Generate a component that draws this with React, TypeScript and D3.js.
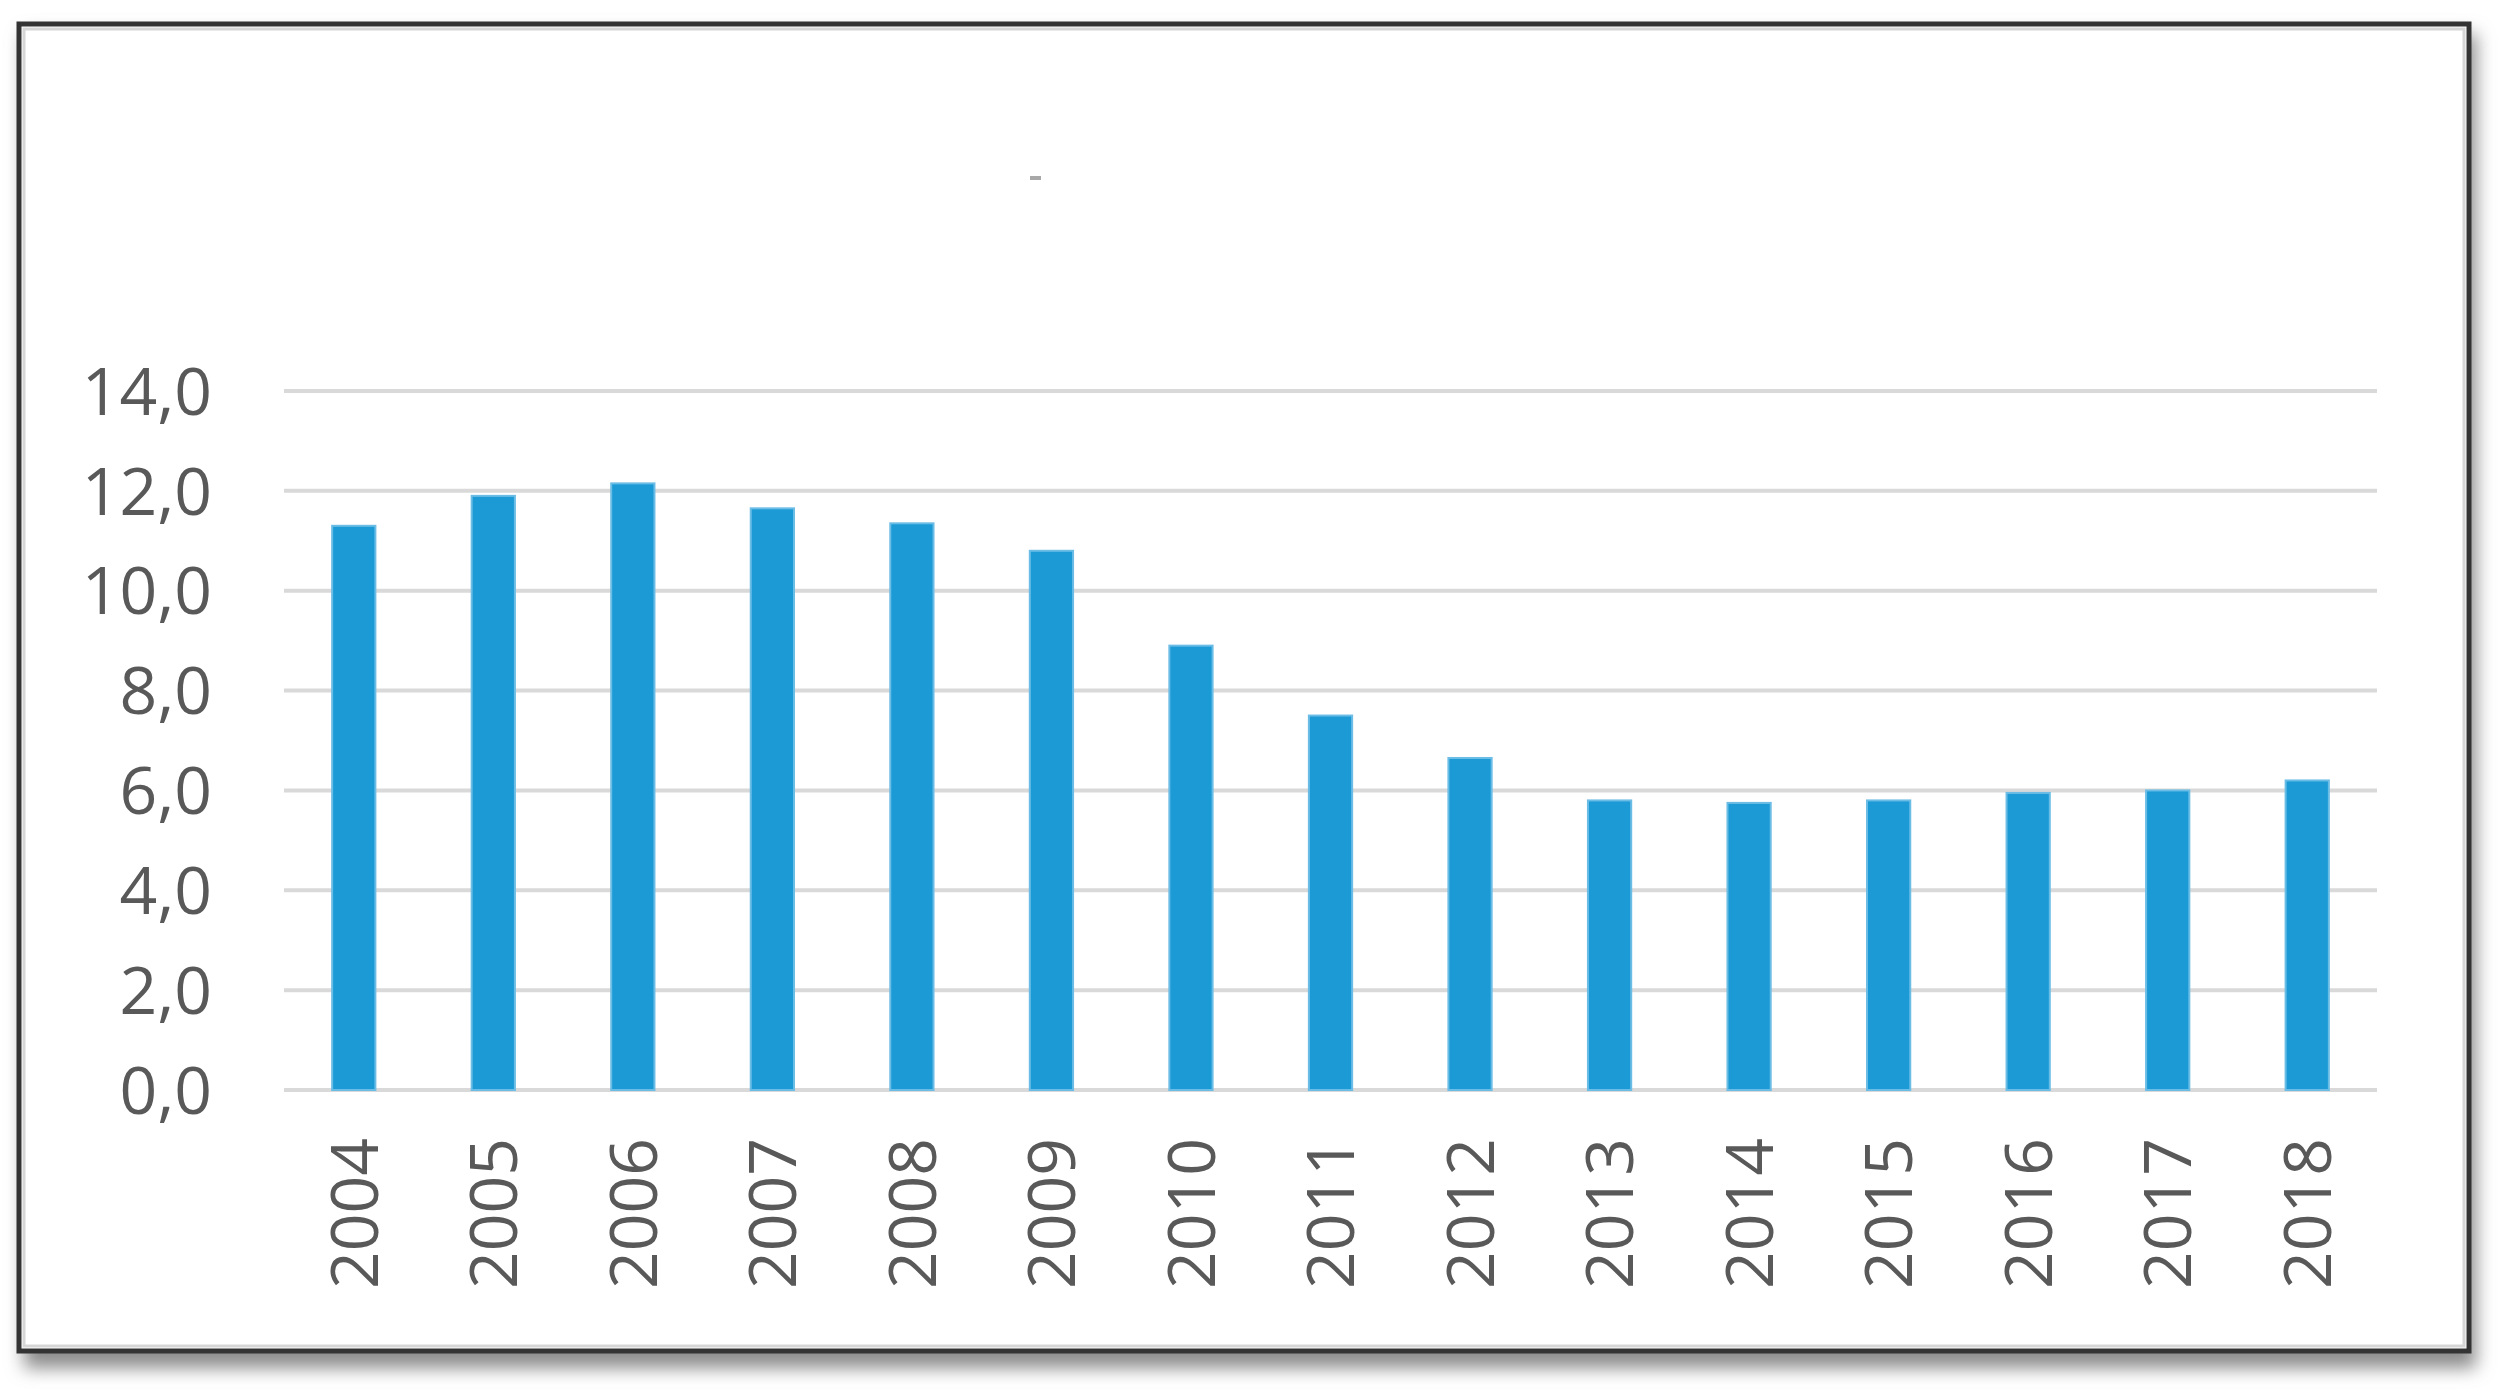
import React from "react";
import * as d3 from "d3";

// Años y valores de la serie
const years = [
  "2004", "2005", "2006", "2007", "2008", "2009", "2010", "2011",
  "2012", "2013", "2014", "2015", "2016", "2017", "2018",
];
const values = [11.3, 11.9, 12.15, 11.65, 11.35, 10.8, 8.9, 7.5, 6.65, 5.8, 5.75, 5.8, 5.95, 6.0, 6.2];
const yTicks = [0, 2, 4, 6, 8, 10, 12, 14];

const W = 2502;
const H = 1390;
const FONT = "'Open Sans', 'DejaVu Sans', sans-serif";

export default function App() {
  // Escalas
  const x = d3
    .scaleBand<string>()
    .domain(years)
    .range([284, 2377])
    .paddingInner(0.69)
    .paddingOuter(0.345);
  const y = d3.scaleLinear().domain([0, 14]).range([1090, 391]);

  const fmt = (v: number) => d3.format(".1f")(v).replace(".", ",");

  return (
    <svg
      width={W}
      height={H}
      style={{ position: "absolute", left: 0, top: 0, background: "#fff" }}
    >
      <defs>
        <filter id="shadow" x="-5%" y="-5%" width="110%" height="115%">
          <feGaussianBlur stdDeviation="9" />
        </filter>
      </defs>

      {/* sombra del marco */}
      <rect x={24} y={34} width={2452} height={1334} fill="#8a8a8a" filter="url(#shadow)" />
      {/* marco */}
      <rect x={19} y={24} width={2450} height={1327} fill="#fff" stroke="#333" strokeWidth={5} />
      <rect x={24} y={29} width={2440} height={1317} fill="none" stroke="#d6d6d6" strokeWidth={3} />

      {/* marca pequeña del título */}
      <rect x={1030} y={176} width={11} height={4} fill="#a8a8a8" />

      {/* líneas de cuadrícula */}
      {yTicks.map((t) => (
        <line
          key={t}
          x1={284}
          x2={2377}
          y1={y(t)}
          y2={y(t)}
          stroke="#d9d9d9"
          strokeWidth={4}
        />
      ))}

      {/* etiquetas eje Y */}
      {yTicks.map((t) => (
        <text
          key={"l" + t}
          x={212}
          y={y(t)}
          dy="0.36em"
          textAnchor="end"
          fontFamily={FONT}
          fontSize={66}
          fill="#595959"
        >
          {fmt(t)}
        </text>
      ))}

      {/* barras */}
      {years.map((yr, i) => (
        <rect
          key={yr}
          x={x(yr)}
          y={y(values[i])}
          width={x.bandwidth()}
          height={y(0) - y(values[i])}
          fill="#1b9ad6"
          stroke="#6cbde6"
          strokeWidth={2}
        />
      ))}

      {/* etiquetas eje X */}
      {years.map((yr) => {
        const cx = (x(yr) ?? 0) + x.bandwidth() / 2;
        return (
          <text
            key={"x" + yr}
            transform={`translate(${cx},1138) rotate(-90)`}
            dy="0.36em"
            textAnchor="end"
            fontFamily={FONT}
            fontSize={66}
            fill="#595959"
          >
            {yr}
          </text>
        );
      })}
    </svg>
  );
}
